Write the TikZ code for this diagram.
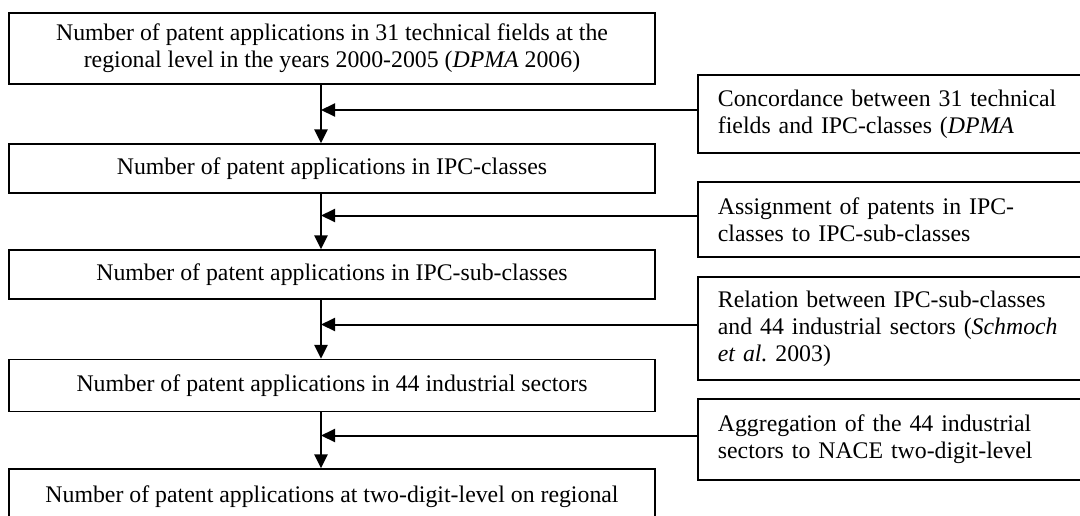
\documentclass[tikz,border=0pt]{standalone}
\usepackage{fontspec}
\setmainfont{Liberation Serif}
\usetikzlibrary{arrows.meta, calc}

\begin{document}
\begin{tikzpicture}[x=1pt, y=-1pt, >={Triangle[length=14pt,width=13pt]},
    stagebox/.style={draw, line width=1.3pt, minimum width=646pt, inner sep=0pt,
        align=center, font=\fontsize{23.8}{27}\selectfont},
    inputbox/.style={draw, line width=1.8pt, anchor=west, text width=353pt,
        inner xsep=20pt, align=left, font=\fontsize{23.8}{27}\selectfont},
    flow/.style={->, line width=2.6pt},
    feedin/.style={->, line width=2pt}]

            \useasboundingbox (0,0) rectangle (1080,515);
            \clip (0,0) rectangle (1080,515);

            % Steps of the conversion
            \node[stagebox, minimum height=71pt] (s1) at (332,48.5) {Number of patent applications in 31 technical fields at the\\ regional level in the years 2000-2005 (\textit{DPMA} 2006)};
            \node[stagebox, minimum height=49pt] (s2) at (332,168.5) {Number of patent applications in IPC-classes};
            \node[stagebox, minimum height=49pt] (s3) at (332,274.5) {Number of patent applications in IPC-sub-classes};
            \node[stagebox, minimum height=52pt] (s4) at (332,385.5) {Number of patent applications in 44 industrial sectors};
            \node[stagebox, minimum height=56pt] (s5) at (332,497) {Number of patent applications at two-digit-level on regional};

            % Inputs used at each step
            \node[inputbox, minimum height=78pt] (c1) at (697,114) {Concordance between 31 technical\\ fields and IPC-classes (\textit{DPMA}};
            \node[inputbox, minimum height=75pt] (c2) at (697,219.5) {Assignment of patents in IPC-\\ classes to IPC-sub-classes};
            \node[inputbox, minimum height=103pt] (c3) at (697,328.5) {Relation between IPC-sub-classes\\ and 44 industrial sectors (\textit{Schmoch}\\ \textit{et al.}\ 2003)};
            \node[inputbox, minimum height=81pt] (c4) at (697,439.5) {Aggregation of the 44 industrial\\ sectors to NACE two-digit-level};

            \coordinate (spine) at (321,0);

            % Connections: step to step, input to spine
            \foreach \a/\b in {s1/s2, s2/s3, s3/s4, s4/s5}
                \draw[flow] (\a.south -| spine) -- (\b.north -| spine);
            \foreach \c in {c1, c2, c3, c4}
                \draw[feedin] ([yshift=4pt]\c.west) -- ([yshift=4pt]\c.west -| spine);

        \end{tikzpicture}
\end{document}
